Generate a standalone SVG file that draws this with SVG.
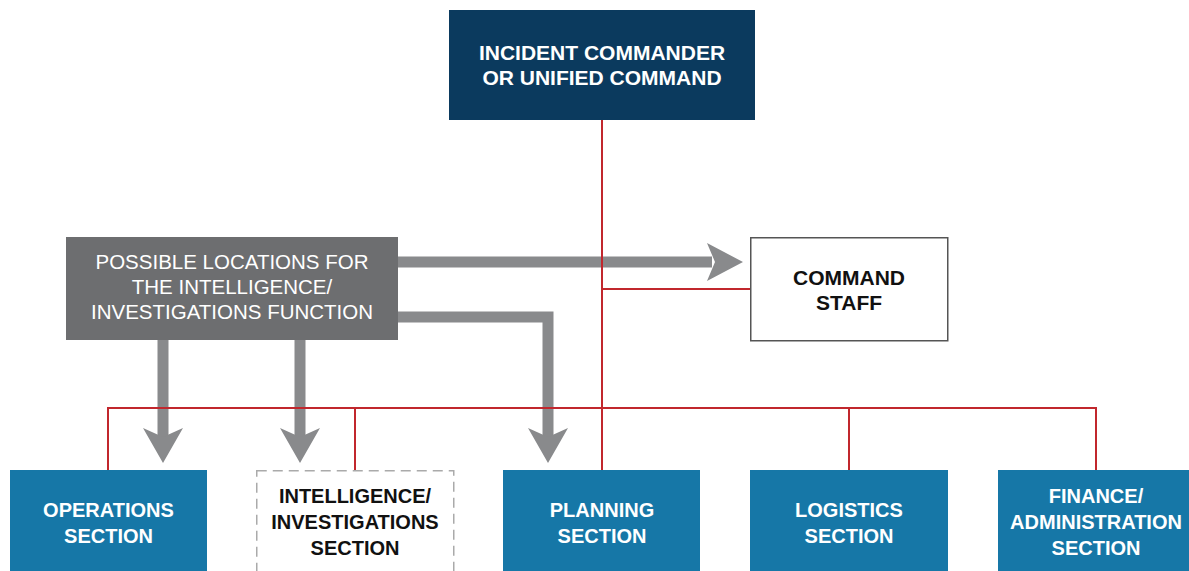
<svg xmlns="http://www.w3.org/2000/svg" width="1189" height="571" viewBox="0 0 1189 571">
<defs>
<style>
.sec{fill:#1677a7}
.t{font-family:"Liberation Sans",Arial,sans-serif;text-anchor:middle}
.wb{fill:#fff;font-weight:bold;font-size:20px}
.kb{fill:#111;font-weight:bold;font-size:20px}
.shaft{fill:none;stroke:#898a8c;stroke-width:11}
.head{fill:#898a8c}
.red{fill:none;stroke:#c1272d;stroke-width:2}
</style>
</defs>
<rect width="1189" height="571" fill="#fff"/>
<g id="connectors">
<path class="shaft" d="M398 262 H712"/>
<polygon class="head" points="743,262 707,243 715,262 707,281"/>
<path class="shaft" d="M398 317 H548 V438"/>
<polygon class="head" points="548,463 528,428 548,437 568,428"/>
<path class="shaft" d="M163 340 V438"/>
<polygon class="head" points="163,463 143,428 163,437 183,428"/>
<path class="shaft" d="M300 340 V438"/>
<polygon class="head" points="300,463 280,428 300,437 320,428"/>
<path class="red" d="M602 120 V470"/>
<path class="red" d="M602 289 H750"/>
<path class="red" d="M108 470 V408 H1096 V470"/>
<path class="red" d="M355 408 V470"/>
<path class="red" d="M849 408 V470"/>
</g>
<g id="incident-commander">
<rect x="449" y="10" width="306" height="110" fill="#0b3a5e"/>
<text class="t" x="602" y="60" fill="#fff" font-weight="bold" font-size="21">INCIDENT COMMANDER</text>
<text class="t" x="602" y="85" fill="#fff" font-weight="bold" font-size="21">OR UNIFIED COMMAND</text>
</g>
<g id="possible-locations">
<rect x="66" y="237" width="332" height="103" fill="#6d6e70"/>
<text class="t" x="232" y="269" fill="#fff" font-size="20.5">POSSIBLE LOCATIONS FOR</text>
<text class="t" x="232" y="294" fill="#fff" font-size="20.5">THE INTELLIGENCE/</text>
<text class="t" x="232" y="319" fill="#fff" font-size="20.5">INVESTIGATIONS FUNCTION</text>
</g>
<g id="command-staff">
<rect x="750.75" y="237.75" width="197" height="103" fill="#fff" stroke="#555" stroke-width="1.5"/>
<text class="t" x="849" y="285" fill="#111" font-weight="bold" font-size="21">COMMAND</text>
<text class="t" x="849" y="310" fill="#111" font-weight="bold" font-size="21">STAFF</text>
</g>
<g id="operations">
<rect class="sec" x="10" y="470" width="197" height="110"/>
<text class="t wb" x="108.5" y="517">OPERATIONS</text>
<text class="t wb" x="108.5" y="543">SECTION</text>
</g>
<g id="intelligence">
<rect x="256.75" y="470.75" width="197" height="110" fill="#fff" stroke="#aaa" stroke-width="1.5" stroke-dasharray="10 6"/>
<text class="t kb" x="355" y="503">INTELLIGENCE/</text>
<text class="t kb" x="355" y="529">INVESTIGATIONS</text>
<text class="t kb" x="355" y="555">SECTION</text>
</g>
<g id="planning">
<rect class="sec" x="503" y="470" width="197" height="110"/>
<text class="t wb" x="602" y="517">PLANNING</text>
<text class="t wb" x="602" y="543">SECTION</text>
</g>
<g id="logistics">
<rect class="sec" x="750" y="470" width="198" height="110"/>
<text class="t wb" x="849" y="517">LOGISTICS</text>
<text class="t wb" x="849" y="543">SECTION</text>
</g>
<g id="finance">
<rect class="sec" x="998" y="470" width="197" height="110"/>
<text class="t wb" x="1096" y="503">FINANCE/</text>
<text class="t wb" x="1096" y="529">ADMINISTRATION</text>
<text class="t wb" x="1096" y="555">SECTION</text>
</g>
</svg>
